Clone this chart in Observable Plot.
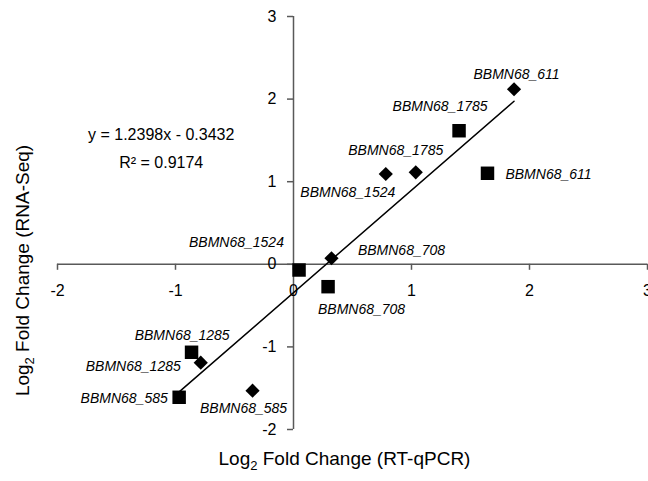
<!DOCTYPE html>
<html><head><meta charset="utf-8">
<script src="https://cdn.jsdelivr.net/npm/d3@7"></script>
<script src="https://cdn.jsdelivr.net/npm/@observablehq/plot@0.6"></script>
<style>body{margin:0;background:#fff;overflow:hidden}</style>
</head><body><div id="chart"></div>
<script>
// ---- data ----
const genes = ["BBMN68_611", "BBMN68_1785", "BBMN68_1524", "BBMN68_708", "BBMN68_1285", "BBMN68_585"];
// diamond series: log2 fold change (RT-qPCR, RNA-Seq)
const diamondQPCR = [1.869, 1.036, 0.782, 0.322, -0.786, -0.347];
const diamondSeq  = [2.119, 1.114, 1.093, 0.073, -1.191, -1.530];
// square series
const squareQPCR = [1.644, 1.403, 0.047, 0.293, -0.864, -0.969];
const squareSeq  = [1.102, 1.617, -0.069, -0.271, -1.065, -1.610];
const xTicks = [-2, -1, 0, 1, 2, 3];
const yTicks = [-2, -1, 0, 1, 2, 3];
const slope = [1.2398];
const intercept = [-0.3432];
const rSquared = [0.9174];

// ---- layout (pixel offsets of the point labels) ----
const diamondLabelOffsets = [[2.5, -15], [-20, -22], [-38, 18], [70, -7.6], [-67.5, 4], [-9, 17.6]];
const squareLabelOffsets  = [[61, 1.7], [-19, -24], [-62.6, -27.3], [33.5, 22.6], [-9.4, -16.3], [-55, 1.4]];

const font = "'Liberation Sans', Arial, Helvetica, sans-serif";
const axisColor = "#595959";

const diamonds = genes.map((g, i) => ({gene: g, x: diamondQPCR[i], y: diamondSeq[i]}));
const squares = genes.map((g, i) => ({gene: g, x: squareQPCR[i], y: squareSeq[i]}));
const allX = [...diamondQPCR, ...squareQPCR];
const trend = [d3.min(allX), d3.max(allX)].map(x => ({x, y: slope[0] * x + intercept[0]}));
const eqText = `y = ${slope[0]}x ${intercept[0] < 0 ? "-" : "+"} ${Math.abs(intercept[0])}\nR² = ${rSquared[0]}`;

const labelMarks = (rows, offsets) => rows.map((d, i) =>
  Plot.text([d], {x: "x", y: "y", text: "gene", dx: offsets[i][0], dy: offsets[i][1],
    fontSize: 14, fontStyle: "italic", fill: "#000"}));

const plot = Plot.plot({
  width: 648, height: 481,
  marginLeft: 57, marginRight: 1, marginTop: 16, marginBottom: 52,
  x: {domain: [-2, 3], axis: null},
  y: {domain: [-2, 3], axis: null},
  style: {fontFamily: font, background: "#fff", color: "#000"},
  marks: [
    Plot.ruleY([0], {stroke: axisColor, strokeWidth: 1.5}),
    Plot.ruleX([0], {stroke: axisColor, strokeWidth: 1.5}),
    Plot.ruleX(xTicks, {x: d => d, y1: 0, y2: 0, insetBottom: -6, stroke: axisColor, strokeWidth: 1.5}),
    Plot.ruleY(yTicks, {y: d => d, x1: 0, x2: 0, insetLeft: -6, stroke: axisColor, strokeWidth: 1.5}),
    Plot.text(xTicks, {x: d => d, y: 0, text: d => String(d), dy: 27, fontSize: 16, fill: "#000"}),
    Plot.text(yTicks, {x: 0, y: d => d, text: d => String(d), dx: -17, textAnchor: "end", fontSize: 16, fill: "#000"}),
    Plot.line(trend, {x: "x", y: "y", stroke: "#000", strokeWidth: 1.5}),
    Plot.dot(squares, {x: "x", y: "y", symbol: "square", r: 7.6, fill: "#000"}),
    Plot.dot(diamonds, {x: "x", y: "y", symbol: "diamond2", r: 6.4, fill: "#000"}),
    ...labelMarks(diamonds, diamondLabelOffsets),
    ...labelMarks(squares, squareLabelOffsets),
    Plot.text([eqText], {text: d => d, frameAnchor: "top-left", dx: 103.7, dy: 104, fontSize: 16, lineHeight: 1.75, textAnchor: "middle", fill: "#000"})
  ]
});

const svg = d3.select(plot);
function title(sel, main, rest) {
  sel.attr("text-anchor", "middle").attr("font-size", 19).attr("fill", "#000").attr("font-family", font);
  sel.append("tspan").text(main);
  sel.append("tspan").attr("font-size", 13).attr("dy", 5).text("2");
  sel.append("tspan").attr("dy", -5).text(rest);
}
title(svg.append("text").attr("x", 344.5).attr("y", 465), "Log", " Fold Change (RT-qPCR)");
title(svg.append("text").attr("transform", "translate(29,270.5) rotate(-90)"), "Log", " Fold Change (RNA-Seq)");

document.getElementById("chart").appendChild(plot);
</script>
</body></html>
